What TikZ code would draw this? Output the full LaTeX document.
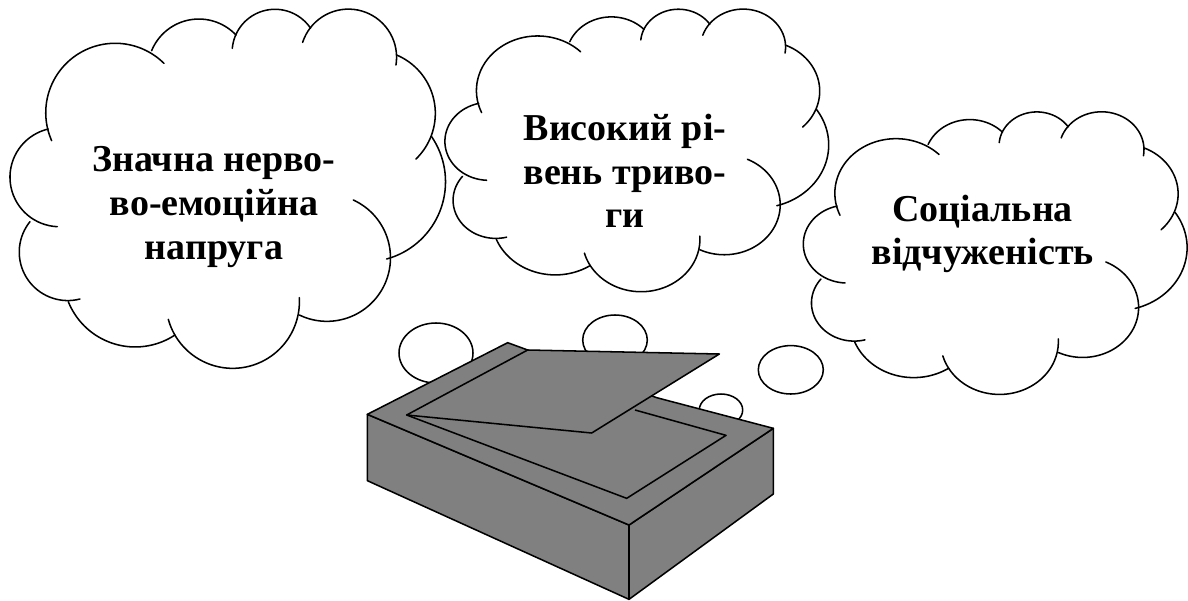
\documentclass[tikz,border=0pt]{standalone}
\usepackage{fontspec}
\setmainfont{Liberation Serif}
\definecolor{boxgray}{HTML}{808080}
\tikzset{
  px/.style={x=0.75pt,y=-0.75pt},
  fine/.style={x=0.25pt,y=-0.25pt},
  cloudline/.style={draw=black,line width=1.15pt,line cap=round,line join=round},
  bubble/.style={draw=black,line width=1.15pt,fill=white},
  solidpart/.style={draw=black,fill=boxgray,line width=1.15pt,line join=round},
  cloudtext/.style={font=\bfseries\fontsize{28.5pt}{32.8pt}\selectfont,align=center,inner sep=0pt}
}
% One circular lobe through a start point, a point on the arc and an end point.
\def\lobe(#1,#2)(#3,#4)(#5,#6){%
  \pgfmathsetmacro\lax{#1/100}\pgfmathsetmacro\lay{#2/100}%
  \pgfmathsetmacro\lbx{#3/100}\pgfmathsetmacro\lby{#4/100}%
  \pgfmathsetmacro\lcx{#5/100}\pgfmathsetmacro\lcy{#6/100}%
  \pgfmathsetmacro\lD{2*(\lax*(\lby-\lcy)+\lbx*(\lcy-\lay)+\lcx*(\lay-\lby))}%
  \pgfmathsetmacro\lA{\lax*\lax+\lay*\lay}%
  \pgfmathsetmacro\lB{\lbx*\lbx+\lby*\lby}%
  \pgfmathsetmacro\lC{\lcx*\lcx+\lcy*\lcy}%
  \pgfmathsetmacro\lux{(\lA*(\lby-\lcy)+\lB*(\lcy-\lay)+\lC*(\lay-\lby))/\lD}%
  \pgfmathsetmacro\luy{(\lA*(\lcx-\lbx)+\lB*(\lax-\lcx)+\lC*(\lbx-\lax))/\lD}%
  \pgfmathsetmacro\lR{100*veclen(\lax-\lux,\lay-\luy)}%
  \pgfmathsetmacro\langa{atan2(\lay-\luy,\lax-\lux)}%
  \pgfmathsetmacro\langb{atan2(\lby-\luy,\lbx-\lux)}%
  \pgfmathsetmacro\langc{atan2(\lcy-\luy,\lcx-\lux)}%
  \pgfmathsetmacro\ldb{mod(\langb-\langa+720,360)}%
  \pgfmathsetmacro\ldc{mod(\langc-\langa+720,360)}%
  \pgfmathsetmacro\lend{\langa+(\ldb<\ldc ? \ldc : \ldc-360)}%
  \draw[cloudline] plot[smooth,samples=36,domain=\langa:\lend,variable=\t]
    ({100*\lux+\lR*cos(\t)},{100*\luy+\lR*sin(\t)});%
}
% The eleven lobes of a thought cloud, origin at the top left of its extent.
\newcommand\cloudoutline{%
  \begin{scope}[shift={(-28,-27)}]
    \lobe(155,422)(210,180)(492,190)
    \lobe(455,152)(580,58)(708,105)
    \lobe(697,145)(775,38)(932,85)
    \lobe(908,127)(1073,30)(1188,195)
    \lobe(1190,165)(1305,320)(1248,477)
    \lobe(1295,410)(1322,628)(1160,777)
    \lobe(1060,600)(1147,867)(898,945)
    \lobe(898,893)(700,1105)(505,958)
    \lobe(525,1005)(338,1030)(205,905)
    \lobe(240,897)(81,835)(90,665)
    \lobe(172,680)(30,530)(145,387)
  \end{scope}%
}
\begin{document}
\begin{tikzpicture}[px]
  \useasboundingbox (0,0) rectangle (1188,600);

  % Small thought bubbles behind the scanner
  \draw[bubble] (436,353) ellipse (37 and 30);
  \draw[bubble] (615,340) ellipse (32.3 and 25);
  \draw[bubble] (790.8,369.8) ellipse (32.5 and 24.2);
  \draw[bubble] (721,410) ellipse (21.7 and 16);

  % Three thought clouds
  \begin{scope}[shift={(9.3,9)}]
    \begin{scope}[fine] \cloudoutline \end{scope}
  \end{scope}
  \begin{scope}[shift={(444.3,9)}]
    \begin{scope}[x=0.2203pt,y=-0.1967pt] \cloudoutline \end{scope}
  \end{scope}
  \begin{scope}[shift={(802.7,111.7)}]
    \begin{scope}[x=0.2203pt,y=-0.1967pt] \cloudoutline \end{scope}
  \end{scope}

  \node[cloudtext] (stress) at (214,207) {Значна нерво-\\во-емоційна\\напруга};
  \node[cloudtext] (anxiety) at (625,171) {Високий рі-\\вень триво-\\ги};
  \node[cloudtext] (alienation) at (982.7,234) {Соціальна\\відчуженість};

  % Flatbed scanner with its lid raised
  \begin{scope}[fine,shift={(1080,990)}]
    \draw[solidpart] (22,253) -- (807,585) -- (807,808) -- (22,452) -- cycle;
    \draw[solidpart] (807,585) -- (1240,295) -- (1240,492) -- (807,808) -- cycle;
    \draw[solidpart] (22,253) -- (443,38) -- (503,60) -- (890,203) -- (1240,295) -- (807,585) -- cycle;
    \draw[solidpart] (140,255) -- (800,505) -- (1098,316) -- (825,240);
    \draw[solidpart] (140,255) -- (503,60) -- (1078,72) -- (695,309) -- cycle;
  \end{scope}
\end{tikzpicture}
\end{document}
